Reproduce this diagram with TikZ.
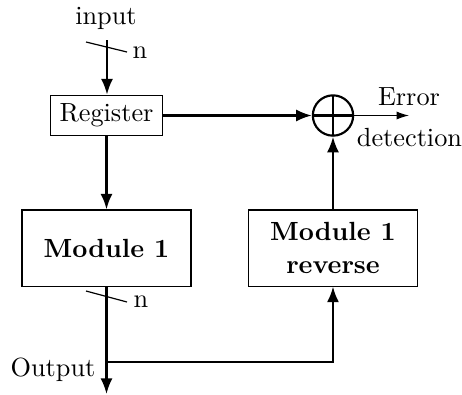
\documentclass[tikz,border=0pt]{standalone}
\usetikzlibrary{arrows.meta}
\begin{document}
\begin{tikzpicture}[x=0.4167pt,y=-0.4167pt,
  every node/.style={font=\fontsize{10.95}{13.6}\selectfont},
  box/.style={draw,line width=0.45pt,inner sep=0pt,align=center},
  conn/.style={line width=0.9pt},
  arr/.style={conn,-{Latex[length=6.5pt,width=5pt]}},
  thinarr/.style={line width=0.5pt,-{Latex[length=5.2pt,width=3.4pt]}},
  lbl/.style={inner sep=0pt}]
\useasboundingbox (0,0) rectangle (462,394);
\node[lbl] (in) at (106,18) {input};
\coordinate (inS) at (107,40);
\node[box,minimum width=47pt,minimum height=17pt] (reg) at (106.5,115.5) {Register};
\node[box,minimum width=70.4pt,minimum height=31.7pt] (m1) at (106.5,248) {\textbf{Module 1}};
\node[box,minimum width=70.4pt,minimum height=31.7pt] (rev) at (333,248) {\textbf{Module 1}\\\textbf{reverse}};
\node[draw,circle,line width=0.9pt,minimum size=16.8pt,inner sep=0pt,
  path picture={\draw[line width=0.9pt] (path picture bounding box.north) -- (path picture bounding box.south)
  (path picture bounding box.west) -- (path picture bounding box.east);}] (x) at (333,115.5) {};
\coordinate (err) at (409,115.5);
\node[lbl] at (409,97) {Error};
\node[lbl] at (409.5,138) {detection};
% input
\draw[arr] (inS) -- (reg.north -| inS);
\draw[line width=0.5pt] (86,42) -- (127,52);
\node[lbl] at (140,53) {n};
% register
\draw[arr] (reg.east) -- (x.west);
\draw[arr] (reg.south -| m1.north) -- (m1.north);
\draw[thinarr] (x.east) -- (err);
% output
\coordinate (br) at (106.5,362);
\coordinate (outE) at (106.5,394);
\draw[arr] (m1.south) -- (outE);
\draw[line width=0.5pt] (86,291) -- (127,302);
\node[lbl] at (141,302) {n};
\node[lbl] at (53,370) {Output};
\draw[arr] (br) -| (rev.south);
\draw[arr] (rev.north) -- (x.south);
\end{tikzpicture}
\end{document}
